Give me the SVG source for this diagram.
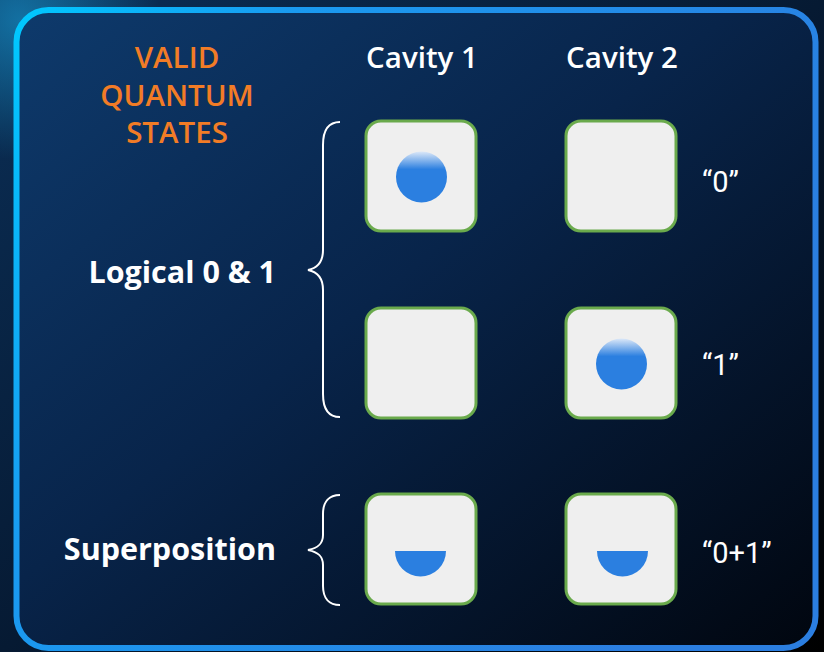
<svg xmlns="http://www.w3.org/2000/svg" width="824" height="652" viewBox="0 0 824 652">
  <defs>
    <linearGradient id="bgOuter" x1="0" y1="0" x2="1" y2="1">
      <stop offset="0" stop-color="#0b2f57"/>
      <stop offset="0.5" stop-color="#061a33"/>
      <stop offset="1" stop-color="#000000"/>
    </linearGradient>
    <radialGradient id="glow" cx="20" cy="20" r="140" gradientUnits="userSpaceOnUse">
      <stop offset="0" stop-color="#1aa6e0" stop-opacity="0.55"/>
      <stop offset="1" stop-color="#1aa6e0" stop-opacity="0"/>
    </radialGradient>
    <linearGradient id="bgInner" x1="0" y1="0" x2="1" y2="1">
      <stop offset="0" stop-color="#0e3a6c"/>
      <stop offset="0.45" stop-color="#08244a"/>
      <stop offset="1" stop-color="#01060f"/>
    </linearGradient>
    <linearGradient id="border" x1="0" y1="0" x2="1" y2="0.4">
      <stop offset="0" stop-color="#00c8ff"/>
      <stop offset="0.3" stop-color="#1a9af0"/>
      <stop offset="1" stop-color="#2b7ee0"/>
    </linearGradient>
    <linearGradient id="ball" x1="0" y1="0" x2="0" y2="1">
      <stop offset="0" stop-color="#dce8f8"/>
      <stop offset="0.35" stop-color="#2b7fe0"/>
      <stop offset="1" stop-color="#2b7fe0"/>
    </linearGradient>
    <style>
      .box { fill: #efefef; stroke: #6aaa4c; stroke-width: 3; }
      .brace { fill: none; stroke: #ffffff; stroke-width: 2; }
      .txt { font-family: "Open Sans", "Noto Sans", sans-serif; fill: #ffffff; font-size: 29.5px; font-weight: 600; }
      .bold { font-weight: bold; font-size: 30.5px; }
      .orange { fill: #f27c26; }
      .q { font-family: Roboto, "Liberation Sans", sans-serif; fill: #ffffff; font-size: 29px; }
      .half { fill: #2b7fe0; }
    </style>
  </defs>

  <rect x="0" y="0" width="824" height="652" fill="url(#bgOuter)"/>
  <rect x="0" y="0" width="824" height="652" fill="url(#glow)"/>
  <rect x="16.5" y="10" width="799" height="638" rx="32" fill="url(#bgInner)" stroke="url(#border)" stroke-width="6"/>

  <g id="title">
    <text class="txt orange" x="177" y="68" text-anchor="middle">VALID</text>
    <text class="txt orange" x="177" y="106" text-anchor="middle">QUANTUM</text>
    <text class="txt orange" x="177" y="143" text-anchor="middle">STATES</text>
  </g>
  <g id="header-cavity1"><text class="txt" x="422" y="68" text-anchor="middle">Cavity 1</text></g>
  <g id="header-cavity2"><text class="txt" x="622" y="68" text-anchor="middle">Cavity 2</text></g>

  <g id="label-logical"><text class="txt bold" x="276" y="283" text-anchor="end">Logical 0 &amp; 1</text></g>
  <g id="label-superposition"><text class="txt bold" x="276" y="560" text-anchor="end">Superposition</text></g>

  <g id="label-0"><text class="q" x="702" y="192">“0”</text></g>
  <g id="label-1"><text class="q" x="702" y="375">“1”</text></g>
  <g id="label-01"><text class="q" x="702" y="563">“0+1”</text></g>

  <g id="connectors">
    <path class="brace" d="M340,122 C329,122 323,130 323,145 L323,250 C323,262 318,268 308,270 C318,272 323,278 323,290 L323,394 C323,409 329,417 340,417"/>
    <path class="brace" d="M340,495 C329,495 323,502 323,514 L323,535 C323,544 318,548 308,550 C318,552 323,556 323,565 L323,586 C323,598 329,605 340,605"/>
  </g>

  <g id="c1-r1">
    <rect class="box" x="366" y="121" width="110" height="110" rx="15"/>
    <circle cx="421.5" cy="177" r="25.5" fill="url(#ball)"/>
  </g>
  <g id="c2-r1">
    <rect class="box" x="566" y="121" width="110" height="110" rx="15"/>
  </g>
  <g id="c1-r2">
    <rect class="box" x="366" y="308" width="110" height="110" rx="15"/>
  </g>
  <g id="c2-r2">
    <rect class="box" x="566" y="308" width="110" height="110" rx="15"/>
    <circle cx="621.5" cy="364" r="25.5" fill="url(#ball)"/>
  </g>
  <g id="c1-r3">
    <rect class="box" x="366" y="494" width="110" height="110" rx="15"/>
    <path class="half" d="M395,551 L446,551 A25.5,25.5 0 0 1 395,551 Z"/>
  </g>
  <g id="c2-r3">
    <rect class="box" x="566" y="494" width="110" height="110" rx="15"/>
    <path class="half" d="M597,551 L648,551 A25.5,25.5 0 0 1 597,551 Z"/>
  </g>
</svg>
